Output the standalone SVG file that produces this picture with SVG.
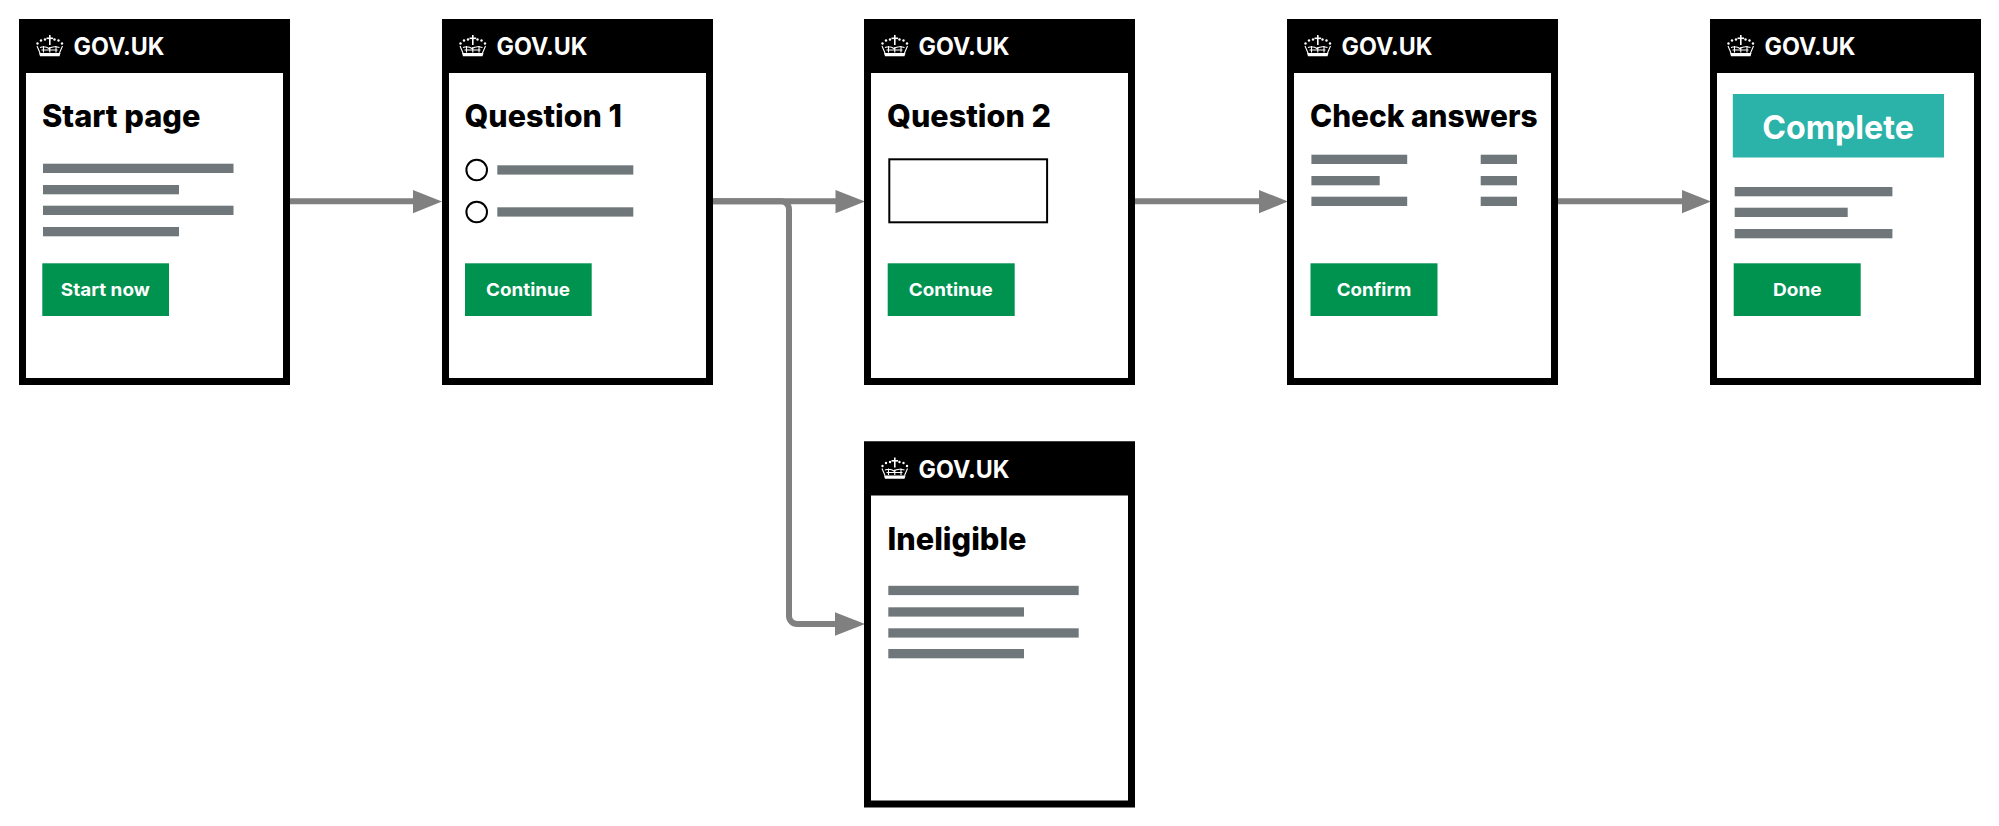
<svg xmlns="http://www.w3.org/2000/svg" width="1999" height="826" viewBox="0 0 1999 826">
<style>
text{font-family:Inter,"Liberation Sans",sans-serif;font-weight:700}
.frame{fill:#fff;stroke:#000;stroke-width:7}
.head{fill:#000}
.brand{fill:#fff;font-size:24px}
.title{fill:#000;font-size:31px;font-weight:800}
.bar{fill:#6f777b}
.btn{fill:#00924f}
.btnt{fill:#fff;font-size:18px;text-anchor:middle}
.line{fill:none;stroke:#808080;stroke-width:6}
.tip{fill:#808080}
.radio{fill:#fff;stroke:#000;stroke-width:2}
</style>
<defs>
<g id="chrome">
<rect class="frame" x="22.500" y="22.500" width="264" height="359"/>
<rect class="head" x="19" y="19" width="271" height="54"/>
<g fill="#fff" stroke="none">
<circle cx="37.500" cy="43.500" r="1.200"/><circle cx="41" cy="40.500" r="1.200"/><circle cx="45" cy="39.500" r="1.200"/><circle cx="54.500" cy="39.500" r="1.200"/><circle cx="58.500" cy="40.500" r="1.200"/><circle cx="62" cy="43.500" r="1.200"/>
<rect x="49" y="35" width="1.600" height="10"/><rect x="46.500" y="37.500" width="6.600" height="1.600"/>
<path d="M39 53h21.500l-1 3.200h-19.500z"/>
</g>
<path d="M37 46l3 7M62.500 46l-3 7M40 47.500q5-2 9 1q4-3 10.500-1M43.500 46v6.500M49.800 47v5.500M56 46v6.500M41.500 50h16" fill="none" stroke="#fff" stroke-width="1.100"/>
<text class="brand" x="73.500" y="55" textLength="91" lengthAdjust="spacingAndGlyphs">GOV.UK</text>
</g>
</defs>
<g id="connectors">
<path class="line" d="M290 201.300H414M713 201.300H837M1135 201.300H1259M1558 201.300H1682"/>
<path class="line" d="M713 201.300H781a8 8 0 0 1 8 8V616a8 8 0 0 0 8 8H836"/>
<path class="tip" d="M413 190L442 201.500L413 213.300zM835.500 190L865 201.500L835.500 213.300zM1259 190L1288 201.500L1259 213.300zM1682 190L1711 201.500L1682 213.300zM835 612.300L865 624L835 635.700z"/>
</g>
<g id="node-start">
<use href="#chrome"/>
<text class="title" x="42" y="126.500" textLength="158.500" lengthAdjust="spacingAndGlyphs">Start page</text>
<rect class="bar" x="43" y="163.700" width="190.500" height="9.300"/><rect class="bar" x="43" y="185" width="136" height="9.300"/><rect class="bar" x="43" y="205.700" width="190.500" height="9.300"/><rect class="bar" x="43" y="227" width="136" height="9.300"/>
<rect class="btn" x="42.300" y="263.300" width="126.700" height="52.700"/>
<text class="btnt" x="105.300" y="296" textLength="89" lengthAdjust="spacingAndGlyphs">Start now</text>
</g>
<g id="node-q1">
<use href="#chrome" x="423"/>
<text class="title" x="464.500" y="126.500" textLength="157.500" lengthAdjust="spacingAndGlyphs">Question 1</text>
<circle class="radio" cx="476.700" cy="170" r="10.300"/><circle class="radio" cx="476.700" cy="212" r="10.300"/>
<rect class="bar" x="497.300" y="165.300" width="136" height="9.300"/><rect class="bar" x="497.300" y="207.300" width="136" height="9.300"/>
<rect class="btn" x="465" y="263.300" width="126.700" height="52.700"/>
<text class="btnt" x="528" y="296" textLength="84" lengthAdjust="spacingAndGlyphs">Continue</text>
</g>
<g id="node-q2">
<use href="#chrome" x="845"/>
<text class="title" x="887" y="126.500" textLength="164" lengthAdjust="spacingAndGlyphs">Question 2</text>
<rect x="889.300" y="159.300" width="157.800" height="63" fill="#fff" stroke="#000" stroke-width="2"/>
<rect class="btn" x="887.700" y="263.300" width="127" height="52.700"/>
<text class="btnt" x="950.800" y="296" textLength="84" lengthAdjust="spacingAndGlyphs">Continue</text>
</g>
<g id="node-check">
<use href="#chrome" x="1268"/>
<text class="title" x="1310" y="126.500" textLength="227.500" lengthAdjust="spacingAndGlyphs">Check answers</text>
<rect class="bar" x="1311.400" y="154.700" width="95.800" height="9.300"/><rect class="bar" x="1311.400" y="176" width="68.300" height="9.300"/><rect class="bar" x="1311.400" y="196.700" width="95.800" height="9.300"/>
<rect class="bar" x="1480.700" y="154.700" width="36.300" height="9.300"/><rect class="bar" x="1480.700" y="176" width="36.300" height="9.300"/><rect class="bar" x="1480.700" y="196.700" width="36.300" height="9.300"/>
<rect class="btn" x="1310.500" y="263.300" width="127" height="52.700"/>
<text class="btnt" x="1374" y="296" textLength="74.500" lengthAdjust="spacingAndGlyphs">Confirm</text>
</g>
<g id="node-complete">
<use href="#chrome" x="1691"/>
<rect x="1732.800" y="94" width="211.200" height="63.500" fill="#2bb2a9"/>
<text x="1838" y="138.500" font-size="33" fill="#fff" text-anchor="middle" textLength="151.600" lengthAdjust="spacingAndGlyphs">Complete</text>
<rect class="bar" x="1734.700" y="187" width="157.700" height="9.300"/><rect class="bar" x="1734.700" y="207.700" width="113" height="9.300"/><rect class="bar" x="1734.700" y="229" width="157.700" height="9.300"/>
<rect class="btn" x="1733.700" y="263.300" width="127" height="52.700"/>
<text class="btnt" x="1797.300" y="296" textLength="48.600" lengthAdjust="spacingAndGlyphs">Done</text>
</g>
<g id="node-ineligible">
<use href="#chrome" x="845" y="422.500"/>
<text class="title" x="887.500" y="550" textLength="139" lengthAdjust="spacingAndGlyphs">Ineligible</text>
<rect class="bar" x="888.300" y="585.800" width="190.400" height="9.300"/><rect class="bar" x="888.300" y="607.300" width="135.700" height="9.300"/><rect class="bar" x="888.300" y="628.300" width="190.400" height="9.300"/><rect class="bar" x="888.300" y="649" width="135.700" height="9.300"/>
</g>
</svg>
